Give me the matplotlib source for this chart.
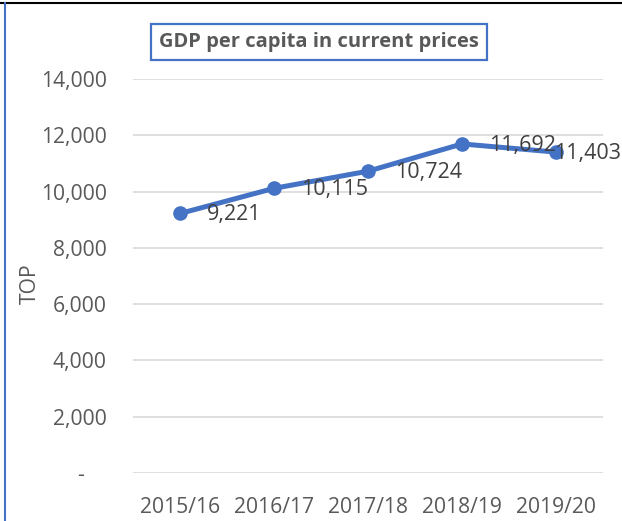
import matplotlib
matplotlib.use("Agg")
import matplotlib.pyplot as plt
from matplotlib.ticker import FuncFormatter
from matplotlib.lines import Line2D

categories = ["2015/16", "2016/17", "2017/18", "2018/19", "2019/20"]
values = [9221, 10115, 10724, 11692, 11403]
yticks = [0, 2000, 4000, 6000, 8000, 10000, 12000, 14000]
title = "GDP per capita in current prices"
ylabel = "TOP"

plt.rcParams['font.family'] = ['Open Sans', 'DejaVu Sans']

fig = plt.figure(figsize=(6.22, 5.21), dpi=100)
ax = fig.add_axes([133/622, 48/521, (603-133)/622, (473-79)/521])

x = list(range(len(categories)))
ax.plot(x, values, color="#4472C4", lw=3.6, marker="o", ms=9.5, zorder=3,
        solid_capstyle="round")
for i, (xi, v) in enumerate(zip(x, values)):
    off = (19.5, -1) if i < len(values) - 1 else (-1.5, -1)
    ax.annotate(f"{v:,}", (xi, v), xytext=off, textcoords="offset points",
                ha="left", va="center", fontsize=15.5, color="#404040", zorder=4)

ax.set_xlim(-0.5, 4.5)
ax.set_ylim(0, 14000)
ax.set_yticks(yticks)
ax.yaxis.set_major_formatter(FuncFormatter(lambda v, p: "-    " if v == 0 else f"{int(v):,}"))
ax.set_xticks(x)
ax.set_xticklabels(categories)
ax.grid(axis="y", color="#D9D9D9", lw=1.2)
ax.set_axisbelow(True)
for s in ax.spines.values():
    s.set_visible(False)
ax.tick_params(axis="both", length=0, labelsize=15.2, colors="#595959")
ax.tick_params(axis="y", pad=19)
ax.tick_params(axis="x", pad=17)
ax.set_ylabel(ylabel, fontsize=15.2, color="#595959")
ax.yaxis.set_label_coords(-0.196, 0.48)

# title box
fig.text(319/622, 1 - 42/521, title, ha="center", va="center", fontsize=14.5,
         fontweight="bold", color="#595959",
         bbox=dict(boxstyle="square,pad=0.4", fc="white", ec="#4472C4", lw=1.6))

# frame lines
fig.add_artist(Line2D([0, 1], [1 - 3/521, 1 - 3/521], transform=fig.transFigure,
                      color="black", lw=1.5))
fig.add_artist(Line2D([5/622, 5/622], [0, 1 - 3/521], transform=fig.transFigure,
                      color="#4472C4", lw=1.5))

fig.savefig("out.png", dpi=100)
